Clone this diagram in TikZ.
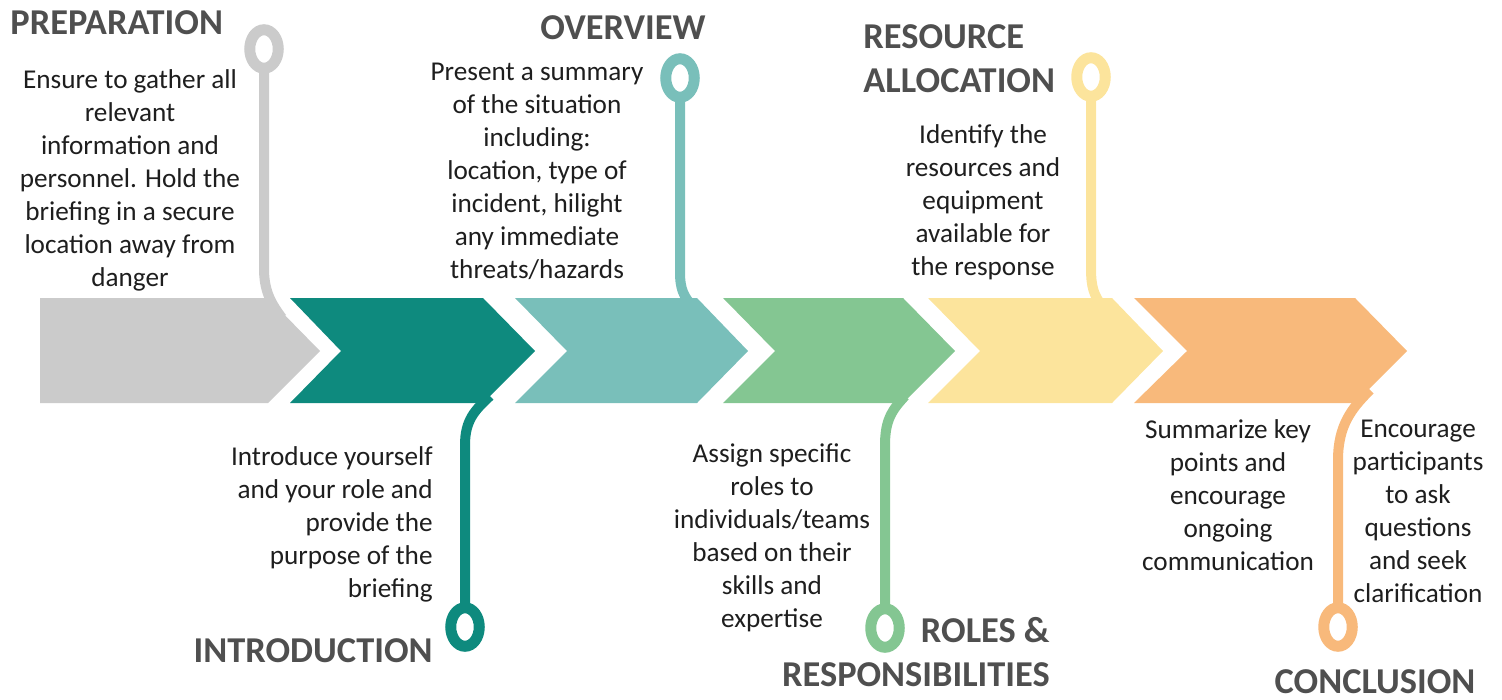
\documentclass[tikz,border=0pt]{standalone}
\usepackage{fontspec}
\setmainfont{Carlito}
\usetikzlibrary{shapes.geometric}
\definecolor{cgray}{HTML}{CBCBCB}
\definecolor{cteal}{HTML}{0E8A7E}
\definecolor{clteal}{HTML}{79BFBA}
\definecolor{cgreen}{HTML}{84C692}
\definecolor{cyellow}{HTML}{FCE49C}
\definecolor{corange}{HTML}{F8B97B}
\definecolor{ttl}{HTML}{4F4F4F}
\definecolor{bodytxt}{HTML}{1E1E1E}
\begin{document}
\begin{tikzpicture}[x=0.5pt,y=-0.5pt,
  body/.style={font=\fontsize{13.6}{16.5}\selectfont, text=bodytxt, inner sep=0, align=center, anchor=north},
  title/.style={font=\fontsize{18.2}{22}\selectfont\bfseries, text=ttl, inner sep=0},
  stem/.style={line width=5pt, draw=#1},
  ring/.style={ellipse, draw=#1, fill=white, line width=5.5pt, minimum width=14.25pt, minimum height=19.25pt, inner sep=0}]
\useasboundingbox (0,0) rectangle (1502,700);

% ring centres and stem ends
\coordinate (c1) at (264,49);
\coordinate (c2) at (465,627);
\coordinate (c3) at (680,78);
\coordinate (c4) at (885,628);
\coordinate (c5) at (1091,77);
\coordinate (c6) at (1338,627);
\coordinate (e1) at (282,318);
\coordinate (e2) at (490,396);
\coordinate (e3) at (692,306);
\coordinate (e4) at (905,396);
\coordinate (e5) at (1102,306);
\coordinate (e6) at (1370,390);

% stems
\draw[stem=cgray]   (c1) -- (264,268) .. controls (264,290) and (270,302) .. (e1);
\draw[stem=clteal]  (c3) -- (680,272) .. controls (680,290) and (684,296) .. (e3);
\draw[stem=cyellow] (c5) -- (1091,268) .. controls (1091,288) and (1094,295) .. (e5);
\draw[stem=cteal]   (c2) -- (465,445) .. controls (465,420) and (475,410) .. (e2);
\draw[stem=cgreen]  (c4) -- (885,445) .. controls (885,420) and (892,410) .. (e4);
\draw[stem=corange] (c6) -- (1338,460) .. controls (1338,425) and (1352,408) .. (e6);

% chevrons
\fill[cgray]   (40,298) -- (268,298) -- (320,351) -- (268,403) -- (40,403) -- cycle;
\fill[cteal]   (290,298) -- (483,298) -- (535,351) -- (483,403) -- (290,403) -- (341,351) -- cycle;
\fill[clteal]  (515,298) -- (697,298) -- (748,351) -- (697,403) -- (515,403) -- (567,351) -- cycle;
\fill[cgreen]  (723,298) -- (903,298) -- (955,351) -- (903,403) -- (723,403) -- (775,351) -- cycle;
\fill[cyellow] (928,298) -- (1112,298) -- (1163,351) -- (1112,403) -- (928,403) -- (980,351) -- cycle;
\fill[corange] (1134,298) -- (1355,298) -- (1407,351) -- (1355,403) -- (1134,403) -- (1187,351) -- cycle;

% rings
\node[ring=cgray]   (r1) at (c1) {};
\node[ring=cteal]   (r2) at (c2) {};
\node[ring=clteal]  (r3) at (c3) {};
\node[ring=cgreen]  (r4) at (c4) {};
\node[ring=cyellow] (r5) at (c5) {};
\node[ring=corange] (r6) at (c6) {};

% titles
\node[title, anchor=base west] (t1) at (10,35) {PREPARATION};
\node[title, anchor=base east] (t2) at (433,662) {INTRODUCTION};
\node[title, anchor=base] (t3) at (623,40) {OVERVIEW};
\node[title, anchor=north east, align=right] (t4) at (1050,611) {\strut ROLES \&\\RESPONSIBILITIES};
\node[title, anchor=north west, align=left] (t5) at (863,17) {\strut RESOURCE\\ALLOCATION};
\node[title, anchor=base] (t6) at (1375,693) {CONCLUSION};

% body texts
\node[body] (b1) at (130,65) {\strut Ensure to gather all\\relevant\\information and\\personnel. Hold the\\briefing in a secure\\location away from\\danger};
\node[body, anchor=north east, align=right] (b2) at (433,442) {\strut Introduce yourself\\and your role and\\provide the\\purpose of the\\briefing};
\node[body] (b3) at (537,57) {\strut Present a summary\\of the situation\\including:\\location, type of\\incident, hilight\\any immediate\\threats/hazards};
\node[body] (b4) at (772,439) {\strut Assign specific\\roles to\\individuals/teams\\based on their\\skills and\\expertise};
\node[body] (b5) at (983,120) {\strut Identify the\\resources and\\equipment\\available for\\the response};
\node[body] (b6) at (1228,415) {\strut Summarize key\\points and\\encourage\\ongoing\\communication};
\node[body] (b7) at (1418,414) {\strut Encourage\\participants\\to ask\\questions\\and seek\\clarification};
\end{tikzpicture}
\end{document}
